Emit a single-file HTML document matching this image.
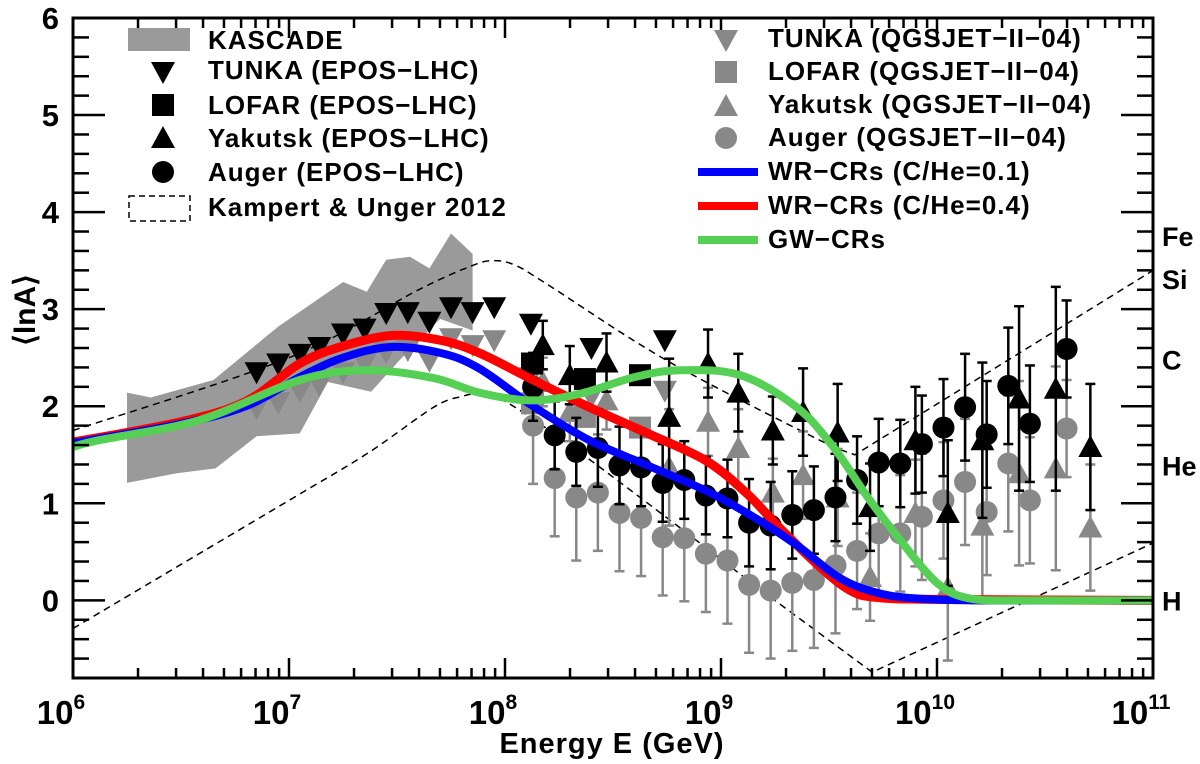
<!DOCTYPE html>
<html><head><meta charset="utf-8"><style>
html,body{margin:0;padding:0;background:#fff;}
svg{display:block;font-family:"Liberation Sans",Arial,sans-serif;font-weight:bold;}
</style></head><body>
<svg id="c" width="1200" height="764" viewBox="0 0 1200 764"></svg>
<script>
const kascadeUpper=[[6.25,2.14],[6.36,2.09],[6.65,2.27],[6.95,2.82],[7.25,3.28],[7.36,3.18],[7.45,3.51],[7.56,3.54],[7.65,3.42],[7.75,3.78],[7.85,3.57]];
const kascadeLower=[[7.85,2.78],[7.70,2.9],[7.51,2.47],[7.38,2.15],[7.18,2.25],[7.05,1.72],[6.85,1.69],[6.66,1.36],[6.48,1.31],[6.25,1.21]];
const tunkaE=[6.85,6.95,7.05,7.14,7.25,7.35,7.45,7.55,7.65,7.75,7.85,7.95,8.12,8.40,8.74];
const tunkaEpos=[2.35,2.44,2.54,2.61,2.75,2.80,2.96,2.97,2.87,3.02,2.97,3.02,2.85,2.60,2.68];
const tunkaQgs=[1.98,2.04,2.16,2.22,2.35,2.44,2.56,2.58,2.47,2.70,2.63,2.68,2.30,2.10,2.16];
const lofarE=[8.125,8.37,8.625];
const lofarEpos=[2.44,2.28,2.32];
const lofarQgs=[2.03,1.89,1.78];
const yakE=[8.175,8.30,8.47,8.76,8.94,9.08,9.24,9.38,9.54,9.69,9.90,10.05,10.21,10.38,10.55,10.71];
const yakEpos=[2.63,2.32,2.45,1.89,2.44,2.14,1.75,1.94,1.73,0.96,1.65,0.90,1.65,2.08,2.18,1.58];
const yakQgs=[2.25,1.94,2.06,1.37,1.84,1.57,1.11,1.29,1.06,0.24,0.90,0.13,0.77,1.31,1.36,0.75];
const yakErr=[0.25,0.3,0.3,0.6,0.35,0.4,0.35,0.45,0.5,0.45,0.55,0.75,0.8,0.95,1.05,0.65];
const augerE=[8.13,8.23,8.33,8.43,8.53,8.63,8.73,8.83,8.93,9.03,9.13,9.23,9.33,9.43,9.53,9.63,9.73,9.83,9.93,10.03,10.13,10.23,10.33,10.43,10.60];
const augerEpos=[2.2,1.70,1.53,1.57,1.39,1.37,1.21,1.24,1.08,1.05,0.80,0.77,0.88,0.93,1.06,1.24,1.42,1.41,1.61,1.78,1.99,1.71,2.21,1.82,2.59];
const augerQgs=[1.80,1.26,1.06,1.11,0.90,0.85,0.65,0.64,0.48,0.41,0.16,0.10,0.18,0.21,0.36,0.51,0.69,0.69,0.86,1.03,1.22,0.91,1.41,1.03,1.77];
const augerErr=[0.35,0.35,0.35,0.4,0.4,0.4,0.4,0.4,0.4,0.4,0.45,0.45,0.45,0.45,0.45,0.45,0.45,0.45,0.5,0.5,0.55,0.55,0.6,0.6,0.5];
const augerQErr=[0.6,0.6,0.65,0.6,0.6,0.6,0.6,0.65,0.6,0.65,0.7,0.7,0.7,0.7,0.7,0.6,0.65,0.6,0.65,0.6,0.65,0.65,0.7,0.65,0.5];
const kuUpper=[[6,1.75],[7,2.5],[7.6,3.2],[7.85,3.45],[7.95,3.5],[8.05,3.45],[8.2,3.25],[8.75,2.47],[9.43,1.68],[9.62,1.5],[11,3.4]];
const kuLower=[[6,-0.29],[7,1.03],[7.36,1.51],[7.67,1.99],[7.8,2.1],[7.87,2.12],[8.0,2.05],[8.3,1.6],[8.75,0.85],[9.17,0.13],[9.7,-0.74],[11,0.59]];
const wrLow=[[6,1.62],[6.5,1.82],[6.8,2.0],[7.05,2.3],[7.25,2.5],[7.47,2.61],[7.7,2.55],[7.88,2.39],[8.13,2.0],[8.39,1.65],[8.66,1.39],[8.93,1.13],[9.15,0.86],[9.35,0.57],[9.55,0.23],[9.72,0.08],[9.9,0.02],[10.2,0],[11,0]];
const wrHigh=[[6,1.63],[6.5,1.84],[6.8,2.05],[7.05,2.44],[7.25,2.62],[7.48,2.73],[7.7,2.68],[7.88,2.55],[8.13,2.27],[8.39,1.99],[8.66,1.72],[8.93,1.44],[9.12,1.1],[9.27,0.75],[9.46,0.34],[9.6,0.1],[9.72,0.03],[10,0.01],[11,0]];
const gw=[[6,1.58],[6.12,1.65],[6.59,1.86],[7.05,2.27],[7.36,2.37],[7.67,2.29],[7.88,2.14],[8.12,2.06],[8.35,2.13],[8.6,2.3],[8.81,2.37],[9.09,2.32],[9.35,1.99],[9.52,1.58],[9.68,1.06],[9.83,0.62],[10,0.18],[10.15,0.02],[10.4,0],[11,0]];
const yTicks=[0,1,2,3,4,5,6];
const xDecades=[6,7,8,9,10,11];
const elements=[["Fe",4.03],["Si",3.33],["C",2.48],["He",1.39],["H",0]];

const L=73,R=1153,T=18,B=678,YMIN=-0.8,YMAX=6;
const X=v=>L+(v-6)/5*(R-L);
const Y=v=>B-(v-YMIN)/(YMAX-YMIN)*(B-T);
const svg=document.getElementById('c');
const NS='http://www.w3.org/2000/svg';
function mk(tag,attrs,parent){const e=document.createElementNS(NS,tag);for(const k in attrs)e.setAttribute(k,attrs[k]);(parent||svg).appendChild(e);return e;}
function grp(name){const g=mk('g',{});


return g;}
function path(pts){return pts.map((p,i)=>(i?'L':'M')+X(p[0]).toFixed(1)+' '+Y(p[1]).toFixed(1)).join(' ');}
function smooth(pts){let d='M'+X(pts[0][0])+' '+Y(pts[0][1]);
for(let i=0;i<pts.length-1;i++){const p0=pts[Math.max(0,i-1)],p1=pts[i],p2=pts[i+1],p3=pts[Math.min(pts.length-1,i+2)];
const c1=[X(p1[0])+(X(p2[0])-X(p0[0]))/6,Y(p1[1])+(Y(p2[1])-Y(p0[1]))/6];
const c2=[X(p2[0])-(X(p3[0])-X(p1[0]))/6,Y(p2[1])-(Y(p3[1])-Y(p1[1]))/6];
d+=` C${c1[0].toFixed(1)} ${c1[1].toFixed(1)} ${c2[0].toFixed(1)} ${c2[1].toFixed(1)} ${X(p2[0]).toFixed(1)} ${Y(p2[1]).toFixed(1)}`;}
return d;}
function smoothThenLine(pts,n){const a=pts.slice(0,n);let d=smooth(a);for(let i=n;i<pts.length;i++)d+=' L'+X(pts[i][0]).toFixed(1)+' '+Y(pts[i][1]).toFixed(1);return d;}
function marker(g,type,cx,cy,col){
 if(type==='circle')return mk('circle',{cx,cy,r:11,fill:col},g);
 if(type==='square')return mk('rect',{x:cx-11,y:cy-11,width:22,height:22,fill:col},g);
 if(type==='up')return mk('polygon',{points:`${cx-12},${cy+10} ${cx+12},${cy+10} ${cx},${cy-12}`,fill:col},g);
 return mk('polygon',{points:`${cx-12},${cy-10} ${cx+12},${cy-10} ${cx},${cy+12}`,fill:col},g);
}

const gk=grp('kascade-band');
mk('path',{d:path(kascadeUpper.concat(kascadeLower))+'Z',fill:'#9a9a9a'},gk);

const gku=grp('kampert-unger-band');
let e=mk('path',{d:smoothThenLine(kuUpper,10),fill:'none',stroke:'#000','stroke-width':1.5,'stroke-dasharray':'7,5'},gku);

e=mk('path',{d:smoothThenLine(kuLower,10),fill:'none',stroke:'#000','stroke-width':1.5,'stroke-dasharray':'7,5'},gku);


function series(name,E,V,err,type,col,errCol){
 const g=grp(name);
 E.forEach((x,i)=>{
  const cx=X(x),cy=Y(V[i]);
  if(err){const lo=Y(V[i]-err[i]),hi=Y(V[i]+err[i]);
   mk('line',{x1:cx,x2:cx,y1:lo,y2:hi,stroke:errCol,'stroke-width':2.5},g);
   mk('line',{x1:cx-5,x2:cx+5,y1:lo,y2:lo,stroke:errCol,'stroke-width':2.5},g);
   mk('line',{x1:cx-5,x2:cx+5,y1:hi,y2:hi,stroke:errCol,'stroke-width':2.5},g);}
  const m=marker(g,type,cx,cy,col);
  
  
 });
}
series('auger-qgsjet',augerE,augerQgs,augerQErr,'circle','#888','#888');
series('yakutsk-qgsjet',yakE,yakQgs,yakErr,'up','#888','#888');
series('lofar-qgsjet',lofarE,lofarQgs,null,'square','#888');
series('tunka-qgsjet',tunkaE,tunkaQgs,null,'down','#888');
series('auger-epos',augerE,augerEpos,augerErr,'circle','#000','#000');
series('yakutsk-epos',yakE,yakEpos,yakErr,'up','#000','#000');
series('lofar-epos',lofarE,lofarEpos,null,'square','#000');
series('tunka-epos',tunkaE,tunkaEpos,null,'down','#000');

const gc=grp('model-curves');
e=mk('path',{d:smooth(wrHigh),fill:'none',stroke:'#f00','stroke-width':9,'stroke-linejoin':'round'},gc);

e=mk('path',{d:smooth(wrLow),fill:'none',stroke:'#00f','stroke-width':8,'stroke-linejoin':'round'},gc);

e=mk('path',{d:smooth(gw),fill:'none',stroke:'#55d055','stroke-width':8,'stroke-linejoin':'round'},gc);


const ga=grp('axes');
mk('rect',{x:L,y:T,width:R-L,height:B-T,fill:'none',stroke:'#000','stroke-width':3},ga);
for(let v=-0.8;v<=6.001;v+=0.2){const r=Math.round(v*10)/10;const major=Math.abs(r-Math.round(r))<1e-6;const len=major?32:16;
 mk('line',{x1:L,x2:L+len,y1:Y(r),y2:Y(r),stroke:'#000','stroke-width':2.5},ga);
 mk('line',{x1:R,x2:R-len,y1:Y(r),y2:Y(r),stroke:'#000','stroke-width':2.5},ga);}
yTicks.forEach(v=>{const t=mk('text',{x:L-14,y:Y(v)+11,'text-anchor':'end','font-size':31},ga);t.textContent=v;
 });
xDecades.forEach((d,i)=>{
 mk('line',{x1:X(d),x2:X(d),y1:B,y2:B-20,stroke:'#000','stroke-width':2.5},ga);
 mk('line',{x1:X(d),x2:X(d),y1:T,y2:T+20,stroke:'#000','stroke-width':2.5},ga);
 if(i<xDecades.length-1)for(let k=2;k<10;k++){const xx=X(d+Math.log10(k));
  mk('line',{x1:xx,x2:xx,y1:B,y2:B-10,stroke:'#000','stroke-width':2.5},ga);
  mk('line',{x1:xx,x2:xx,y1:T,y2:T+10,stroke:'#000','stroke-width':2.5},ga);}
 const t=mk('text',{x:X(d)-12,y:B+46,'text-anchor':'middle','font-size':33},ga);
 
 t.appendChild(document.createTextNode('10'));
 const s=mk('tspan',{dy:-15,'font-size':21},t);s.textContent=d;
});
elements.forEach(([n,v])=>{const t=mk('text',{x:1162,y:Y(v)+(n==='Fe'?37:n==='Si'?12:10),'font-size':27},ga);t.textContent=n;
 });
let t=mk('text',{x:612,y:753,'text-anchor':'middle','font-size':29,'letter-spacing':1},ga);t.textContent='Energy E (GeV)';

t=mk('text',{x:0,y:0,'text-anchor':'middle','font-size':30,transform:'translate(35,310) rotate(-90)'},ga);t.textContent='⟨lnA⟩';


const gl=grp('legend');
function ltext(x,y,s,name){const t=mk('text',{x,y:y+9,'font-size':26,'letter-spacing':1},gl);t.textContent=s;
 
 }
mk('rect',{x:128,y:28,width:62,height:23,fill:'#9a9a9a'},gl);
ltext(208,40,'KASCADE','legend-kascade');
marker(gl,'down',163,72,'#000');ltext(208,70,'TUNKA (EPOS\u2212LHC)','legend-tunka-epos');
marker(gl,'square',163,105,'#000');ltext(208,105,'LOFAR (EPOS\u2212LHC)','legend-lofar-epos');
marker(gl,'up',163,138,'#000');ltext(208,138,'Yakutsk (EPOS\u2212LHC)','legend-yakutsk-epos');
marker(gl,'circle',163,172,'#000');ltext(208,172,'Auger (EPOS\u2212LHC)','legend-auger-epos');
mk('rect',{x:129,y:196,width:61,height:25,fill:'none',stroke:'#000','stroke-width':1.5,'stroke-dasharray':'6,4'},gl);
ltext(208,207,'Kampert & Unger 2012','legend-kampert-unger');
marker(gl,'down',726,40,'#888');ltext(768,38,'TUNKA (QGSJET\u2212II\u221204)','legend-tunka-qgsjet');
marker(gl,'square',726,72,'#888');ltext(768,71,'LOFAR (QGSJET\u2212II\u221204)','legend-lofar-qgsjet');
marker(gl,'up',726,106,'#888');ltext(768,104,'Yakutsk (QGSJET\u2212II\u221204)','legend-yakutsk-qgsjet');
marker(gl,'circle',726,138,'#888');ltext(768,137,'Auger (QGSJET\u2212II\u221204)','legend-auger-qgsjet');
mk('line',{x1:698,x2:758,y1:172,y2:172,stroke:'#00f','stroke-width':8},gl);ltext(768,171,'WR\u2212CRs (C/He=0.1)','legend-wr-01');
mk('line',{x1:698,x2:758,y1:206,y2:206,stroke:'#f00','stroke-width':8},gl);ltext(768,205,'WR\u2212CRs (C/He=0.4)','legend-wr-04');
mk('line',{x1:698,x2:758,y1:240,y2:240,stroke:'#55d055','stroke-width':8},gl);ltext(768,239,'GW\u2212CRs','legend-gw');
</script>
</body></html>
